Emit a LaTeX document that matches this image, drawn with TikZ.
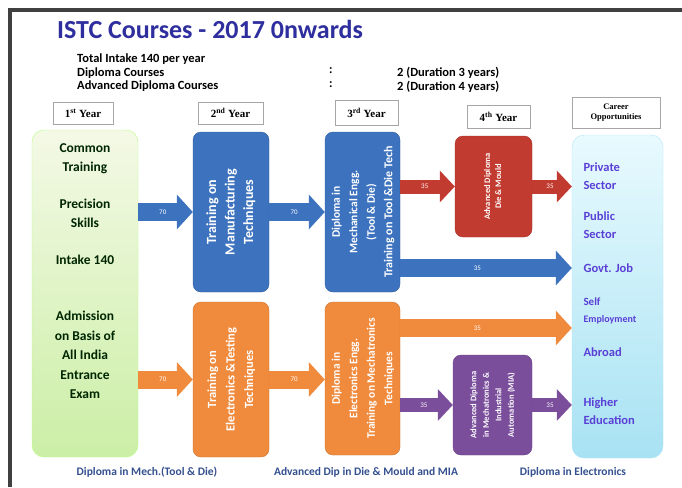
\documentclass[tikz,border=0pt]{standalone}
\usepackage{fontspec}
\usepackage{graphicx}
\setmainfont{Carlito}
\newfontfamily\yearfont{Liberation Serif}
\usetikzlibrary{arrows.meta}

\definecolor{titleblue}{HTML}{2E2E9E}
\definecolor{mechblue}{HTML}{3C72BE}
\definecolor{elecorange}{HTML}{F08A3C}
\definecolor{diered}{HTML}{C23B30}
\definecolor{miapurple}{HTML}{7B4E9C}
\definecolor{careerviolet}{HTML}{5A3FD6}
\definecolor{footblue}{HTML}{34508F}
\definecolor{greentop}{HTML}{F4F9E6}
\definecolor{greenbot}{HTML}{CBEFA6}
\definecolor{cyantop}{HTML}{E8FAFE}
\definecolor{cyanbot}{HTML}{A8E2F3}

\begin{document}
\begin{tikzpicture}[
    x=1pt, y=-1pt,
    course/.style={rectangle, rounded corners=8pt, minimum width=76pt, minimum height=160pt, inner sep=0pt, text=white, font=\bfseries\fontsize{12}{17}\selectfont},
    yearbox/.style={rectangle, draw=gray!70, fill=white, line width=0.8pt, inner sep=0pt, font=\yearfont\bfseries\fontsize{11}{11}\selectfont},
    career/.style={anchor=west, text=careerviolet, align=left, font=\bfseries\fontsize{12.5}{18}\selectfont},
    intro/.style={anchor=north west, align=left, inner sep=0pt, font=\bfseries\fontsize{12.5}{13.5}\selectfont},
    footer/.style={text=footblue, font=\bfseries\fontsize{11.5}{12}\selectfont},
    flow/.style={draw=#1, line width=18pt, -{Triangle[length=16pt,width=34pt]}},
    slim/.style={draw=#1, line width=14pt, -{Triangle[length=15pt,width=31pt]}},
    count/.style={pos=0.45, text=white, font=\fontsize{7}{7}\selectfont}
]
    \useasboundingbox (0,0) rectangle (682,487);
    \fill[white] (0,0) rectangle (682,487);

    % Frame
    \draw[line width=4pt, black!75] (10,487) -- (10,10) -- (682,10);

    % Heading
    \node[anchor=base west, text=titleblue, font=\bfseries\fontsize{26}{28}\selectfont, inner sep=0pt] (title) at (57,38) {ISTC Courses - 2017 0nwards};
    \node[intro] (intake) at (77,54) {Total Intake 140 per year\\Diploma Courses\\Advanced Diploma Courses};
    \node[intro] (colon) at (329,67.5) {:\\:};
    \node[intro] (count) at (397,67.5) {2 (Duration 3 years)\\2 (Duration 4 years)};

    % Year labels
    \node[yearbox, minimum width=60pt, minimum height=22pt] (yr1) at (83,113) {1\textsuperscript{st} Year};
    \node[yearbox, minimum width=65pt, minimum height=22pt] (yr2) at (230.5,113) {2\textsuperscript{nd} Year};
    \node[yearbox, minimum width=63pt, minimum height=25pt] (yr3) at (366.5,112.5) {3\textsuperscript{rd} Year};
    \node[yearbox, minimum width=63pt, minimum height=23pt] (yr4) at (498.5,116.5) {4\textsuperscript{th} Year};
    \node[yearbox, minimum width=88pt, minimum height=31pt, align=center, font=\yearfont\bfseries\fontsize{8.5}{10}\selectfont] (yrc) at (616,112.5) {Career\\Opportunities};

    % First year
    \node[rectangle, rounded corners=12pt, draw=green!40!lime!50, top color=greentop, bottom color=greenbot, minimum width=106pt, minimum height=327pt] (common) at (85,293.5) {};
    \node[align=center, text=black!85!green, font=\bfseries\fontsize{13.5}{19.5}\selectfont] (commontxt) at (85,271) {Common\\Training\\[17pt]Precision\\Skills\\[17pt]Intake 140\\[37pt]Admission\\on Basis of\\All India\\Entrance\\Exam};

    % Second year
    \node[course, fill=mechblue, draw=mechblue!85!black, font=\bfseries\fontsize{14}{18.5}\selectfont] (mfg) at (231,212) {\rotatebox{90}{\begin{tabular}{@{}c@{}}Training on\\Manufacturing\\Techniques\end{tabular}}};
    \node[course, fill=elecorange, draw=elecorange!85!black, minimum height=155pt, font=\bfseries\fontsize{12.5}{18.5}\selectfont] (ets) at (231,379.5) {\rotatebox{90}{\begin{tabular}{@{}c@{}}Training on\\Electronics \&Testing\\Techniques\end{tabular}}};

    % Third year
    \node[course, fill=mechblue, draw=mechblue!85!black, minimum width=75pt, font=\bfseries\fontsize{11.5}{17.5}\selectfont] (mech) at (362.5,212) {\rotatebox{90}{\begin{tabular}{@{}c@{}}Diploma in\\Mechanical Engg.\\(Tool \& Die)\\{\fontsize{12}{14}\selectfont Training on Tool \&Die Tech}\end{tabular}}};
    \node[course, fill=elecorange, draw=elecorange!85!black, minimum width=75pt, minimum height=153pt, font=\bfseries\fontsize{11.5}{17.5}\selectfont] (ece) at (362.5,378.5) {\rotatebox{90}{\begin{tabular}{@{}c@{}}Diploma in\\Electronics Engg.\\Training on Mechatronics\\Techniques\end{tabular}}};

    % Fourth year
    \node[course, fill=diered, draw=diered!85!black, minimum width=77pt, minimum height=101pt, font=\bfseries\fontsize{8.5}{11}\selectfont] (dm) at (493.5,186.5) {\rotatebox{90}{\begin{tabular}{@{}c@{}}Advanced Diploma\\Die \& Mould\end{tabular}}};
    \node[course, fill=miapurple, draw=miapurple!85!black, minimum width=79pt, minimum height=100pt, font=\bfseries\fontsize{8.5}{12.5}\selectfont] (mia) at (492.5,405) {\rotatebox{90}{\begin{tabular}{@{}c@{}}Advanced Diploma\\in Mechatronics \&\\Industrial\\Automation (MIA)\end{tabular}}};

    % Career opportunities
    \node[rectangle, rounded corners=12pt, draw=cyan!30, top color=cyantop, bottom color=cyanbot, minimum width=91pt, minimum height=323pt] (jobs) at (617.5,296.5) {};
    \node[career] (private) at (580,176) {Private\\Sector};
    \node[career] (public) at (580,225) {Public\\Sector};
    \node[career] (govt) at (580,268) {Govt. Job};
    \node[career, font=\bfseries\fontsize{11}{17}\selectfont] (self) at (580,311) {Self\\{\fontsize{10}{12}\selectfont Employment}};
    \node[career] (abroad) at (580,352) {Abroad};
    \node[career] (higher) at (580,411) {Higher\\Education};
    \coordinate (selfrow) at (0,328);

    % Flows
    \draw[flow=mechblue] (mfg.west -| common.east) -- (mfg.west) node[count] {70};
    \draw[flow=elecorange] (ets.west -| common.east) -- (ets.west) node[count] {70};
    \draw[flow=mechblue] (mfg.east) -- (mech.west) node[count] {70};
    \draw[flow=elecorange] (ets.east) -- (ece.west |- ets.east) node[count] {70};
    \draw[slim=diered] (dm.west -| mech.east) -- (dm.west) node[count] {35};
    \draw[slim=diered] (dm.east) -- (dm.east -| jobs.west) node[count] {35};
    \draw[flow=mechblue] (govt.west -| mech.east) -- (govt.west -| jobs.west) node[count] {35};
    \draw[flow=elecorange] (selfrow -| ece.east) -- (selfrow -| jobs.west) node[count] {35};
    \draw[slim=miapurple] (mia.west -| ece.east) -- (mia.west) node[count] {35};
    \draw[slim=miapurple] (mia.east) -- (mia.east -| jobs.west) node[count] {35};

    % Footer
    \node[footer] (fmech) at (147,472) {Diploma in Mech.(Tool \& Die)};
    \node[footer] (fadv) at (366,472) {Advanced Dip in Die \& Mould and MIA};
    \node[footer] (felec) at (573,472) {Diploma in Electronics};
\end{tikzpicture}
\end{document}
